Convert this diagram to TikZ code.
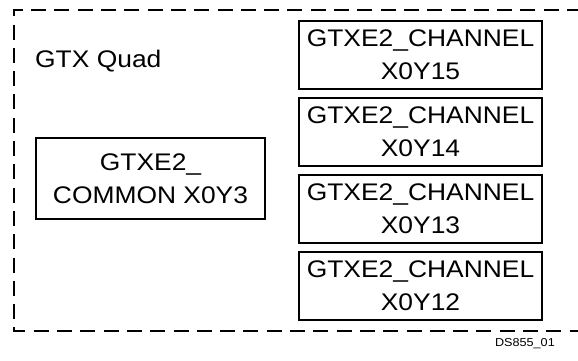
\documentclass[tikz,border=0pt]{standalone}
\usepackage{fontspec}
\setmainfont[FakeStretch=1.1]{Liberation Sans}
\usetikzlibrary{positioning}
\tikzset{
  blockbox/.style={draw, line width=2.8pt, inner sep=0pt, outer sep=0pt, align=center,
    font=\fontsize{24}{33}\selectfont},
  chanbox/.style={blockbox, minimum width=243pt, minimum height=68pt},
  quadline/.style={line width=2.8pt, dash pattern=on 15pt off 8.3pt}
}
\begin{document}
\begin{tikzpicture}[x=1pt,y=1pt]
        \useasboundingbox (0,0) rectangle (578,-360);
        \draw[quadline] (582,-10) -- (14,-10) -- (14,-331) -- (582,-331);

        \node[anchor=base west, inner sep=0pt, font=\fontsize{24}{28}\selectfont] (quad) at (35,-67) {GTX Quad};

        \node[chanbox] (ch15) at (420.5,-55) {GTXE2\_CHANNEL\\X0Y15};
        \node[chanbox, below=9pt of ch15] (ch14) {GTXE2\_CHANNEL\\X0Y14};
        \node[chanbox, below=9pt of ch14] (ch13) {GTXE2\_CHANNEL\\X0Y13};
        \node[chanbox, below=9pt of ch13] (ch12) {GTXE2\_CHANNEL\\X0Y12};

        \node[blockbox, minimum width=229pt, minimum height=81pt] (common) at (150.5,-178.5) {GTXE2\_\\COMMON X0Y3};

        \node[anchor=base east, inner sep=0pt, font=\fontsize{11.5}{13}\selectfont] (fig) at (555,-346) {DS855\_01};
      \end{tikzpicture}
\end{document}
